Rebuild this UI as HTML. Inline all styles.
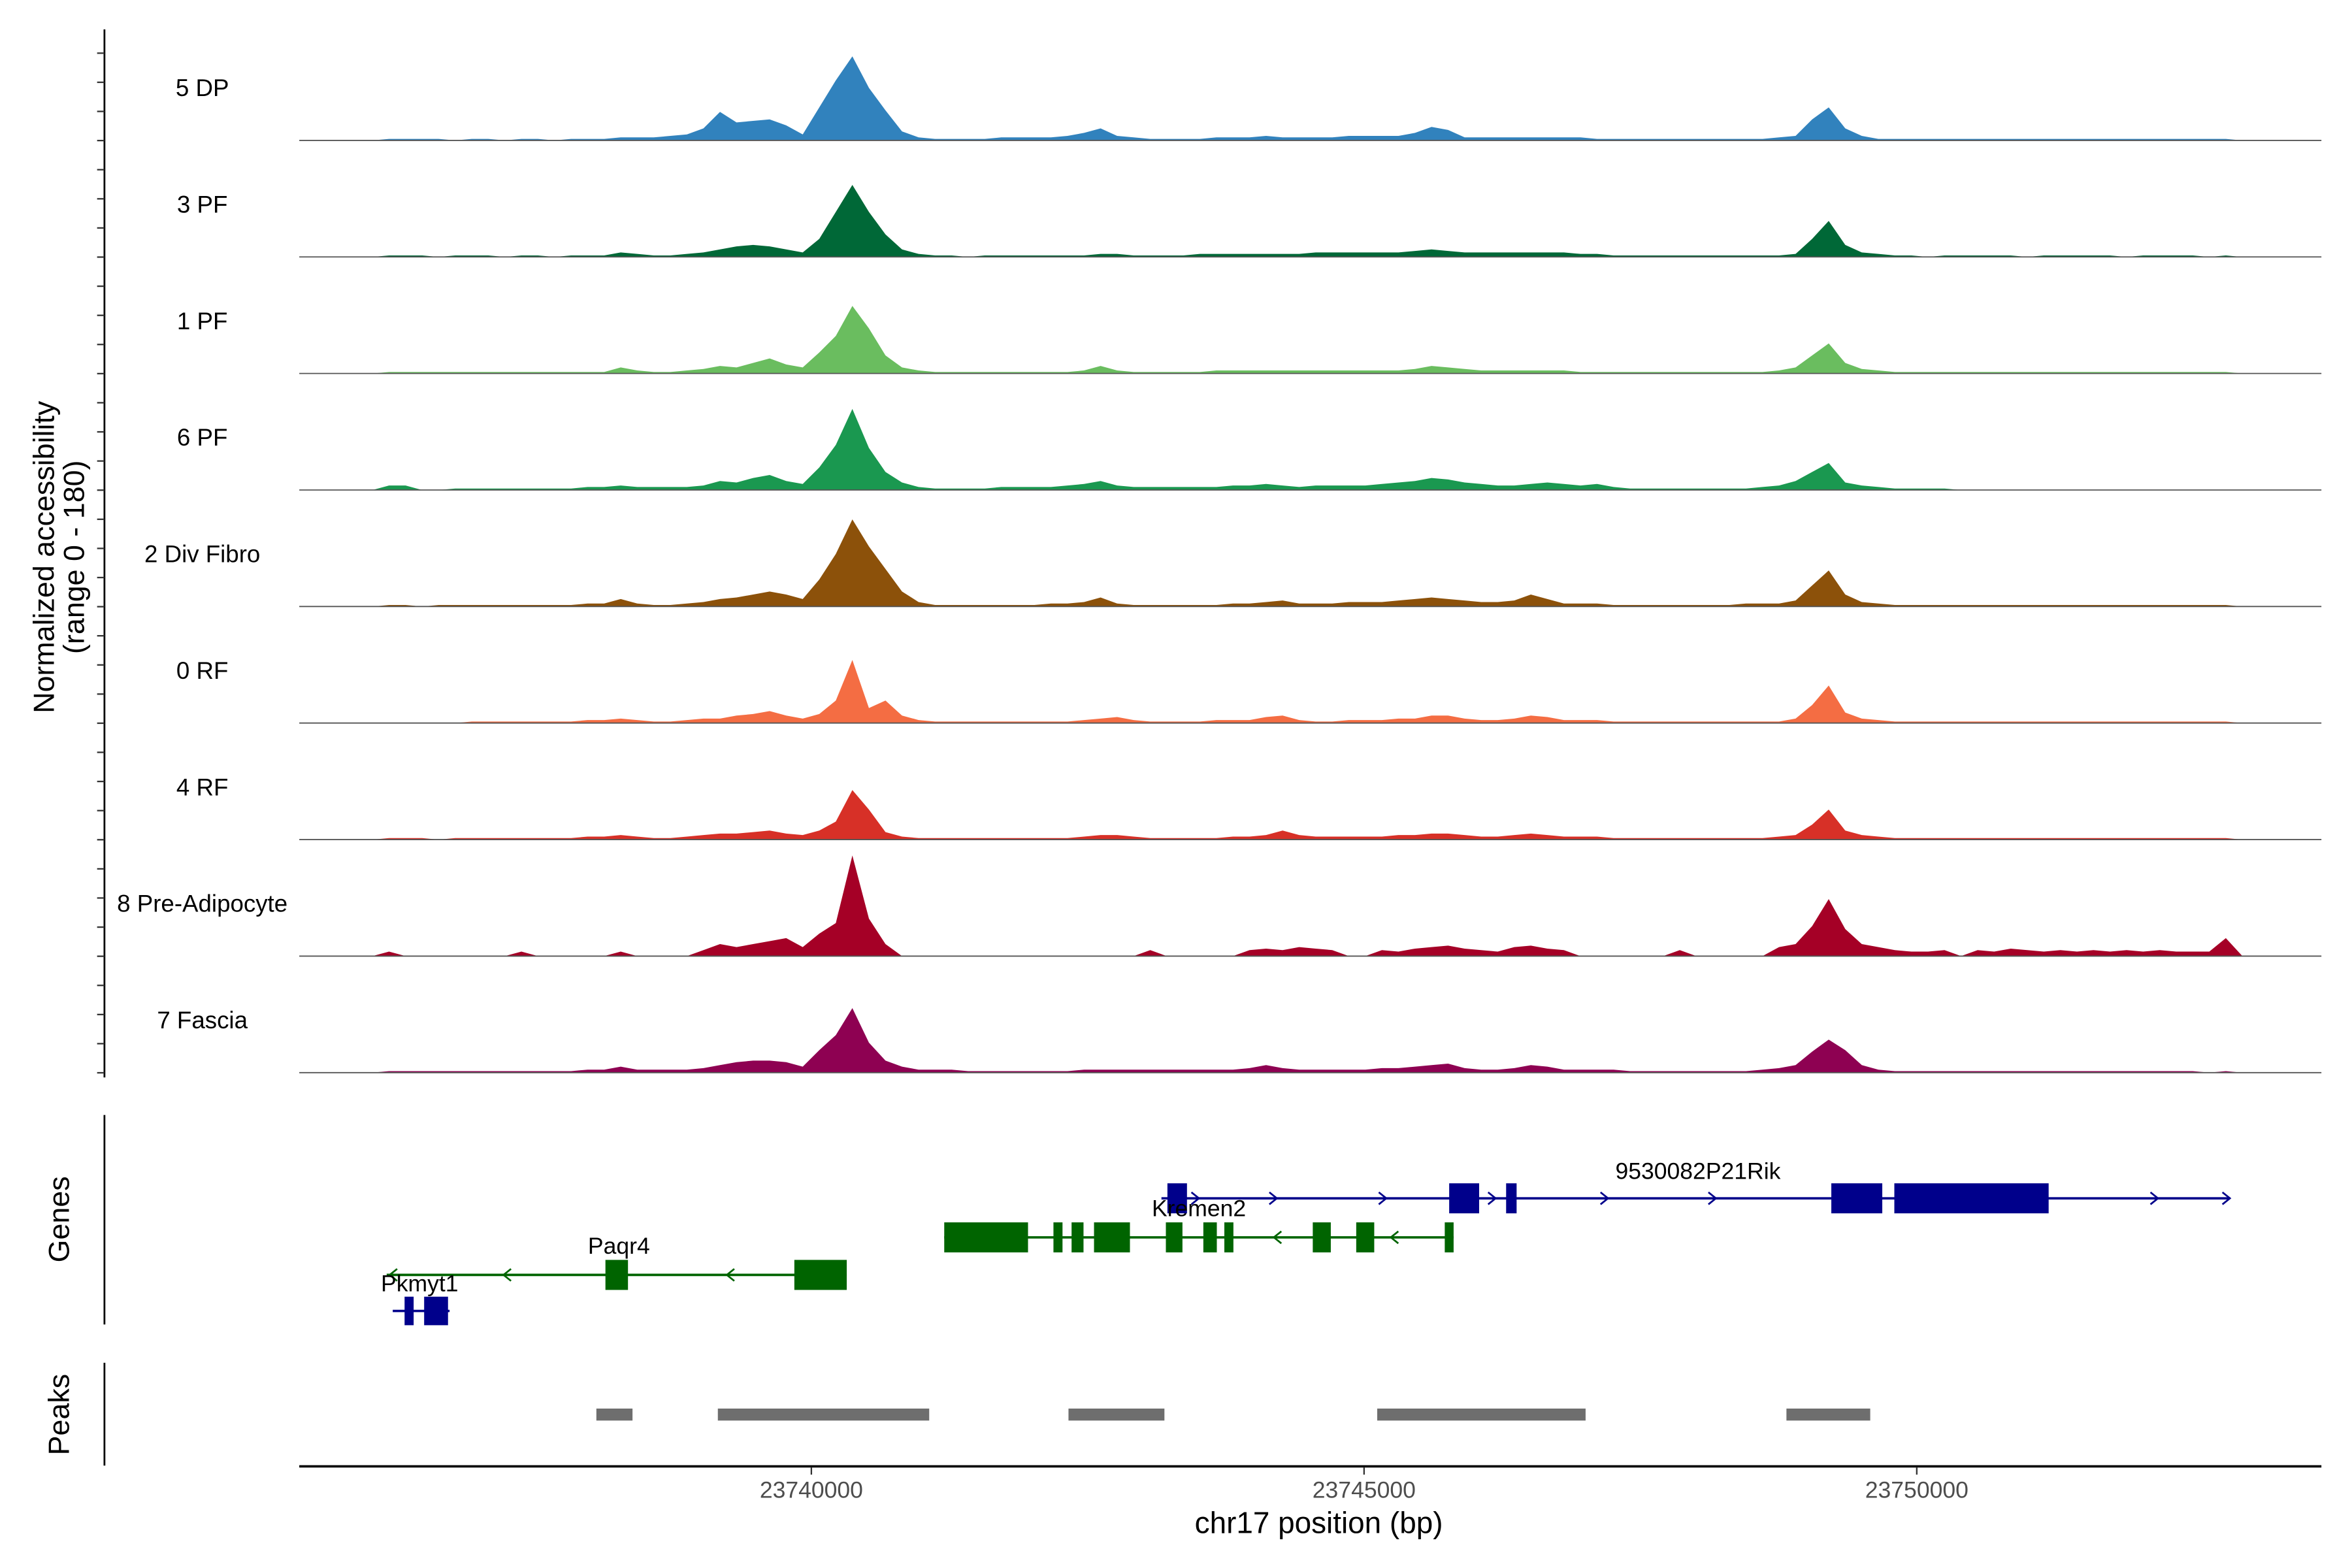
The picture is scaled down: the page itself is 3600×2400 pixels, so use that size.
<!DOCTYPE html>
<html><head><meta charset="utf-8"><style>
html,body{margin:0;padding:0;background:#fff;overflow:hidden;}
svg{display:block;font-family:"Liberation Sans",sans-serif;}
</style></head><body>
<svg id="chart" xmlns="http://www.w3.org/2000/svg" width="3600" height="2400" viewBox="0 0 1560 1040">
<rect x="0" y="0" width="1560" height="1040" fill="#fff"/>
<g transform="scale(0.994,0.996)">
<g id="tracks"></g>
<g id="axes">
<line x1="69.7" y1="19.6" x2="69.7" y2="717.5" stroke="#000" stroke-width="1.2"/>
<line x1="69.7" y1="742.5" x2="69.7" y2="882" stroke="#000" stroke-width="1.2"/>
<line x1="69.7" y1="907.5" x2="69.7" y2="976" stroke="#000" stroke-width="1.2"/>
<line x1="199.7" y1="976.5" x2="1549" y2="976.5" stroke="#000" stroke-width="1.6"/>
<text transform="translate(36,371) rotate(-90)" text-anchor="middle" font-size="19.5" fill="#000">Normalized accessibility</text>
<text transform="translate(56,371) rotate(-90)" text-anchor="middle" font-size="19.5" fill="#000">(range 0 - 180)</text>
<text transform="translate(46,812) rotate(-90)" text-anchor="middle" font-size="19.5" fill="#000">Genes</text>
<text transform="translate(46,942) rotate(-90)" text-anchor="middle" font-size="19.5" fill="#000">Peaks</text>
<text x="880" y="1021" text-anchor="middle" font-size="20" fill="#000">chr17 position (bp)</text>
</g>
<g id="genes"></g>
<g id="peaks"></g>
</g>
</svg>
<script>
const xTicks = [23740000, 23745000, 23750000];
const trackNames = ["5 DP","3 PF","1 PF","6 PF","2 Div Fibro","0 RF","4 RF","8 Pre-Adipocyte","7 Fascia"];
const trackColors = ["#3182bd","#006837","#6abd5f","#1a9850","#8c510a","#f46d43","#d73027","#a50026","#8e0152"];
const binStart = 23735880;
const binSize = 149.7;
const dp5 = [0,0,1,1,1,1,0,1,1,0, 1,1,0,1,1,1,2,2,2,3, 4,8,19,12,13,14,10,4,22,40, 56,35,20,6,2,1,1,1,1,2, 2,2,2,3,5,8,3,2,1,1, 1,1,2,2,2,3,2,2,2,2, 3,3,3,3,5,9,7,2,2,2, 2,2,2,2,2,1,1,1,1,1, 1,1,1,1,1,1,2,3,14,22, 8,3,1,1,1,1,1,1,1,1, 1,1,1,1,1,1,1,1,1,1, 1,1,1,1,0];
const pf3 = [0,0,1,1,1,0,1,1,1,0, 1,1,0,1,1,1,3,2,1,1, 2,3,5,7,8,7,5,3,12,30, 48,30,15,5,2,1,1,0,1,1, 1,1,1,1,1,2,2,1,1,1, 1,2,2,2,2,2,2,2,3,3, 3,3,3,3,4,5,4,3,3,3, 3,3,3,3,2,2,1,1,1,1, 1,1,1,1,1,1,1,2,12,24, 8,3,2,1,1,0,1,1,1,1, 1,0,1,1,1,1,1,0,1,1, 1,1,0,1,0];
const pf1 = [0,0,1,1,1,1,1,1,1,1, 1,1,1,1,1,1,4,2,1,1, 2,3,5,4,7,10,6,4,14,25, 45,30,12,4,2,1,1,1,1,1, 1,1,1,1,2,5,2,1,1,1, 1,1,2,2,2,2,2,2,2,2, 2,2,2,2,3,5,4,3,2,2, 2,2,2,2,1,1,1,1,1,1, 1,1,1,1,1,1,2,4,12,20, 7,3,2,1,1,1,1,1,1,1, 1,1,1,1,1,1,1,1,1,1, 1,1,1,1,0];
const pf6 = [0,0,3,3,0,0,1,1,1,1, 1,1,1,1,2,2,3,2,2,2, 2,3,6,5,8,10,6,4,15,30, 54,28,12,5,2,1,1,1,1,2, 2,2,2,3,4,6,3,2,2,2, 2,2,2,3,3,4,3,2,3,3, 3,3,4,5,6,8,7,5,4,3, 3,4,5,4,3,4,2,1,1,1, 1,1,1,1,1,2,3,6,12,18, 5,3,2,1,1,1,1,0,0,0, 0,0,0,0,0,0,0,0,0,0, 0,0,0,0,0];
const divFibro2 = [0,0,1,1,0,1,1,1,1,1, 1,1,1,1,2,2,5,2,1,1, 2,3,5,6,8,10,8,5,18,35, 58,40,25,10,3,1,1,1,1,1, 1,1,2,2,3,6,2,1,1,1, 1,1,1,2,2,3,4,2,2,2, 3,3,3,4,5,6,5,4,3,3, 4,8,5,2,2,2,1,1,1,1, 1,1,1,1,2,2,2,4,14,24, 8,3,2,1,1,1,1,1,1,1, 1,1,1,1,1,1,1,1,1,1, 1,1,1,1,0];
const rf0 = [0,0,0,0,0,0,0,1,1,1, 1,1,1,1,2,2,3,2,1,1, 2,3,3,5,6,8,5,3,6,15, 42,10,15,5,2,1,1,1,1,1, 1,1,1,1,2,3,4,2,1,1, 1,1,2,2,2,4,5,2,1,1, 2,2,2,3,3,5,5,3,2,2, 3,5,4,2,2,2,1,1,1,1, 1,1,1,1,1,1,1,3,12,25, 7,3,2,1,1,1,1,1,1,1, 1,1,1,1,1,1,1,1,1,1, 1,1,1,1,0];
const rf4 = [0,0,1,1,1,0,1,1,1,1, 1,1,1,1,2,2,3,2,1,1, 2,3,4,4,5,6,4,3,6,12, 33,20,5,2,1,1,1,1,1,1, 1,1,1,1,2,3,3,2,1,1, 1,1,1,2,2,3,6,3,2,2, 2,2,2,3,3,4,4,3,2,2, 3,4,3,2,2,2,1,1,1,1, 1,1,1,1,1,1,2,3,10,20, 6,3,2,1,1,1,1,1,1,1, 1,1,1,1,1,1,1,1,1,1, 1,1,1,1,0];
const preAdipo8 = [0,0,3,0,0,0,0,0,0,0, 3,0,0,0,0,0,3,0,0,0, 0,4,8,6,8,10,12,6,15,22, 67,25,8,0,0,0,0,0,0,0, 0,0,0,0,0,0,0,0,4,0, 0,0,0,0,4,5,4,6,5,4, 0,0,4,3,5,6,7,5,4,3, 6,7,5,4,0,0,0,0,0,0, 4,0,0,0,0,0,6,8,20,38, 18,8,6,4,3,3,4,0,4,3, 5,4,3,4,3,4,3,4,3,4, 3,3,3,12,0];
const fascia7 = [0,0,1,1,1,1,1,1,1,1, 1,1,1,1,2,2,4,2,2,2, 2,3,5,7,8,8,7,4,15,25, 43,20,8,4,2,2,2,1,1,1, 1,1,1,1,2,2,2,2,2,2, 2,2,2,2,3,5,3,2,2,2, 2,2,3,3,4,5,6,3,2,2, 3,5,4,2,2,2,2,1,1,1, 1,1,1,1,1,2,3,5,14,22, 15,5,2,1,1,1,1,1,1,1, 1,1,1,1,1,1,1,1,1,1, 1,1,0,1,0];
const trackValues = [dp5, pf3, pf1, pf6, divFibro2, rf0, rf4, preAdipo8, fascia7];
const peakStarts = [23738055, 23739154, 23742326, 23745119, 23748821];
const peakEnds = [23738382, 23741066, 23743194, 23747004, 23749579];
const rikExonStarts = [23743221, 23745770, 23746285, 23749227, 23749797];
const rikExonEnds = [23743398, 23746041, 23746380, 23749688, 23751193];
const rikArrows = [23743506, 23744211, 23745201, 23746190, 23747207, 23748183, 23752182, 23752833];
const kremenExonStarts = [23741202, 23742190, 23742354, 23742557, 23743207, 23743546, 23743736, 23744536, 23744929, 23745730];
const kremenExonEnds = [23741960, 23742272, 23742462, 23742882, 23743357, 23743668, 23743818, 23744699, 23745092, 23745810];
const kremenArrows = [23744184, 23745242];
const paqrExonStarts = [23738137, 23739846];
const paqrExonEnds = [23738341, 23740320];
const paqrArrows = [23736185, 23737215, 23739235];
const pkmytExonStarts = [23736320, 23736497];
const pkmytExonEnds = [23736402, 23736713];

const NS = "http://www.w3.org/2000/svg";
function xs(bp){ return 541.4 + (bp - 23740000) * 0.07376; }
const trackTop = 16, trackStep = 77.6, yMax = 75, trackH = 75;
function ys(v, base){ return base - v / yMax * trackH; }
function mk(tag, attrs, parent){ const e = document.createElementNS(NS, tag); for (const k in attrs) e.setAttribute(k, attrs[k]); parent.appendChild(e); return e; }

const axes = document.getElementById('axes');
for (let ti = 0; ti < trackNames.length; ti++) {
  const base = trackTop + trackStep * (ti + 1);
  for (let k = 0; k < 4; k++) {
    const ty = base - k * trackStep / 4;
    const t = mk('line', {x1: 64.8, x2: 69.7, y1: ty, y2: ty, stroke: '#333', 'stroke-width': 1}, axes);
    
    
  }
}
xTicks.forEach(v => {
  const t = mk('line', {x1: xs(v), x2: xs(v), y1: 977, y2: 982, stroke: '#333', 'stroke-width': 1}, axes);
  
  
  const l = mk('text', {x: xs(v), y: 997.5, 'text-anchor': 'middle', 'font-size': 15.5, fill: '#4d4d4d'}, axes);
  l.textContent = v;
  
  
});

const tracks = document.getElementById('tracks');
trackValues.forEach((vals, ti) => {
  const base = trackTop + trackStep * (ti + 1) - 0.1;
  const g = mk('g', {}, tracks);
  
  
  let d = 'M' + xs(binStart).toFixed(2) + ',' + base;
  vals.forEach((v, i) => { d += ' L' + xs(binStart + i * binSize).toFixed(2) + ',' + ys(v, base).toFixed(2); });
  d += ' L' + xs(binStart + (vals.length - 1) * binSize).toFixed(2) + ',' + base + ' Z';
  const a = mk('path', {d: d, fill: trackColors[ti]}, g);
  
  
  const bl = mk('line', {x1: 199.7, x2: 1549, y1: base, y2: base, stroke: '#555', 'stroke-width': 0.8}, g);
  
  
  const lab = mk('text', {x: 135, y: base - 29.5, 'text-anchor': 'middle', 'font-size': 16, fill: '#000'}, g);
  lab.textContent = trackNames[ti];
  
  
});

const genes = document.getElementById('genes');
function drawGene(name, color, y, lineStart, lineEnd, starts, ends, arrows, dir, labelX, labelY, h) {
  const g = mk('g', {}, genes);
  
  
  mk('line', {x1: xs(lineStart), x2: xs(lineEnd), y1: y, y2: y, stroke: color, 'stroke-width': 1.6}, g);
  starts.forEach((s, i) => {
    const r = mk('rect', {x: xs(s), y: y - h / 2, width: Math.max(2, xs(ends[i]) - xs(s)), height: h, fill: color}, g);
    
    
  });
  arrows.forEach(a => {
    const ax = xs(a), s = dir > 0 ? -5 : 5;
    const p = mk('polyline', {points: (ax + s) + ',' + (y - 4) + ' ' + ax + ',' + y + ' ' + (ax + s) + ',' + (y + 4), fill: 'none', stroke: color, 'stroke-width': 1.2}, g);
    
    
  });
  const t = mk('text', {x: labelX, y: labelY, 'text-anchor': 'middle', 'font-size': 15.5, fill: '#000'}, g);
  t.textContent = name;
  
  
}
drawGene('9530082P21Rik', '#00008b', 798, 23743167, 23752833, rikExonStarts, rikExonEnds, rikArrows, 1, 1133, 785, 20);
drawGene('Kremen2', '#006400', 824, 23741202, 23745810, kremenExonStarts, kremenExonEnds, kremenArrows, -1, 800, 810, 20);
drawGene('Paqr4', '#006400', 849, 23736158, 23740320, paqrExonStarts, paqrExonEnds, paqrArrows, -1, 413, 835, 20);
drawGene('Pkmyt1', '#00008b', 873, 23736213, 23736727, pkmytExonStarts, pkmytExonEnds, [], 1, 280, 860, 19);

const peaks = document.getElementById('peaks');
peakStarts.forEach((s, i) => {
  const r = mk('rect', {x: xs(s), y: 938, width: xs(peakEnds[i]) - xs(s), height: 8, fill: '#6e6e6e'}, peaks);
  
  
});
</script>
</body></html>
